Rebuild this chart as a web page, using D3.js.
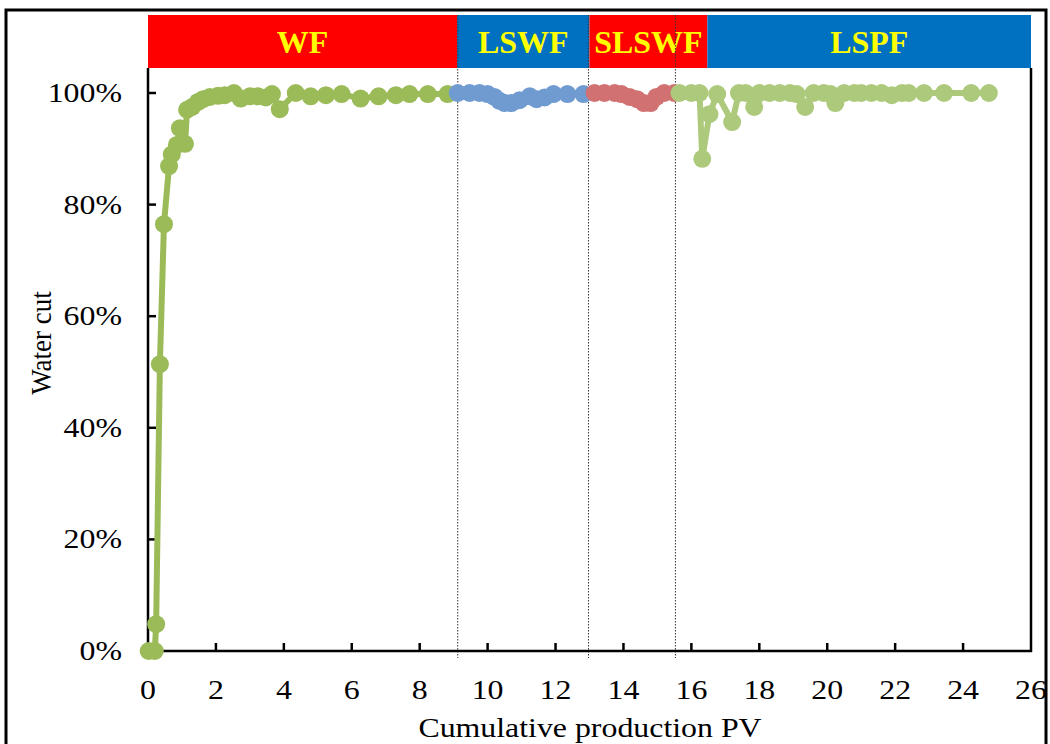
<!DOCTYPE html>
<html>
<head>
<meta charset="utf-8">
<script src="https://cdn.jsdelivr.net/npm/d3@7"></script>
<style>
  body { margin: 0; background: #fff; }
  svg { display: block; font-family: "Liberation Serif", "Times New Roman", serif; }
</style>
</head>
<body>
<script>
// Datos de cada etapa (PV acumulado, corte de agua)
const wfX = [0.02, 0.2, 0.24, 0.35, 0.47, 0.62, 0.7, 0.85, 0.94, 1.09, 1.15, 1.3, 1.47, 1.62, 1.82, 2.06, 2.26, 2.53, 2.73, 3.0, 3.24, 3.47, 3.65, 3.88, 4.35, 4.79, 5.24, 5.7, 6.26, 6.79, 7.3, 7.7, 8.24, 8.82];
const wfY = [0, 0, 0.048, 0.514, 0.765, 0.869, 0.89, 0.907, 0.937, 0.909, 0.97, 0.975, 0.984, 0.989, 0.993, 0.995, 0.996, 1.0, 0.99, 0.994, 0.994, 0.992, 0.998, 0.971, 1.0, 0.994, 0.996, 0.998, 0.99, 0.994, 0.996, 0.998, 0.998, 0.998];

const lswfX = [9.12, 9.47, 9.76, 10.0, 10.2, 10.35, 10.5, 10.7, 10.94, 11.24, 11.44, 11.68, 11.94, 12.35, 12.82];
const lswfY = [1.0, 1.0, 1.0, 0.998, 0.993, 0.986, 0.982, 0.982, 0.987, 0.994, 0.989, 0.992, 0.998, 0.998, 0.998];

const slswfX = [13.15, 13.44, 13.74, 13.94, 14.18, 14.4, 14.6, 14.8, 14.97, 15.2, 15.5];
const slswfY = [1.0, 1.0, 1.0, 0.998, 0.993, 0.989, 0.982, 0.982, 0.993, 1.0, 1.0];

const lspfX = [15.65, 16.0, 16.24, 16.32, 16.53, 16.76, 17.2, 17.4, 17.6, 17.85, 18.0, 18.3, 18.6, 18.9, 19.1, 19.35, 19.6, 19.9, 20.1, 20.24, 20.5, 20.8, 21.0, 21.3, 21.6, 21.9, 22.2, 22.4, 22.85, 23.44, 24.24, 24.76];
const lspfY = [1.0, 1.0, 1.0, 0.882, 0.962, 0.998, 0.948, 1.0, 1.0, 0.975, 1.0, 1.0, 1.0, 1.0, 0.998, 0.975, 1.0, 1.0, 0.998, 0.982, 1.0, 1.0, 1.0, 1.0, 1.0, 0.996, 1.0, 1.0, 1.0, 1.0, 1.0, 1.0];

// Etapas del banner superior
const fases = ["WF", "LSWF", "SLSWF", "LSPF"];
const limitesFases = [0, 9.1, 13.0, 16.47, 26];
const coloresFases = ["#ff0000", "#0070c0", "#ff0000", "#0070c0"];
const divisiones = [9.12, 12.97, 15.53];

const ticksX = [0, 2, 4, 6, 8, 10, 12, 14, 16, 18, 20, 22, 24, 26];
const ticksY = [0, 0.2, 0.4, 0.6, 0.8, 1.0];

const WIDTH = 1050;
const HEIGHT = 744;
const ESTIRAR = 1.18; // el texto del original está algo ensanchado

const svg = d3.select("body").append("svg")
  .attr("width", WIDTH)
  .attr("height", HEIGHT);

// Marco exterior
svg.append("rect")
  .attr("x", 6).attr("y", 10)
  .attr("width", 1040).attr("height", 745)
  .attr("fill", "none").attr("stroke", "#000").attr("stroke-width", 3);

const escalaX = d3.scaleLinear().domain([0, 26]).range([148, 1031]);
const escalaY = d3.scaleLinear().domain([0, 1]).range([651, 93]);

// Banner
const banner = svg.append("g");
fases.forEach((f, i) => {
  const x0 = escalaX(limitesFases[i]);
  const x1 = escalaX(limitesFases[i + 1]);
  banner.append("rect")
    .attr("x", x0).attr("y", 15)
    .attr("width", x1 - x0).attr("height", 53)
    .attr("fill", coloresFases[i]);
  banner.append("text")
    .attr("transform", `translate(${(x0 + x1) / 2},53) scale(1.03,1)`)
    .attr("text-anchor", "middle")
    .attr("font-size", 31).attr("font-weight", "bold")
    .attr("fill", "#ffff00")
    .text(f);
});

// Líneas punteadas entre etapas
svg.selectAll(".div")
  .data(divisiones)
  .join("line")
  .attr("x1", d => escalaX(d)).attr("x2", d => escalaX(d))
  .attr("y1", 15).attr("y2", 658)
  .attr("stroke", "#333").attr("stroke-width", 1)
  .attr("stroke-dasharray", "1.5,1.5");

// Ejes
const ejes = svg.append("g").attr("stroke", "#000").attr("stroke-width", 2.5);
ejes.append("line").attr("x1", 148).attr("x2", 148).attr("y1", 68).attr("y2", 652);
ejes.append("line").attr("x1", 1031).attr("x2", 1031).attr("y1", 68).attr("y2", 652);
ejes.append("line").attr("x1", 147).attr("x2", 1032).attr("y1", 651).attr("y2", 651);

ejes.selectAll(".tx").data(ticksX.slice(1, -1)).join("line")
  .attr("x1", d => escalaX(d)).attr("x2", d => escalaX(d))
  .attr("y1", 651).attr("y2", 643);
ejes.selectAll(".ty").data(ticksY.slice(1)).join("line")
  .attr("x1", 148).attr("x2", 156)
  .attr("y1", d => escalaY(d)).attr("y2", d => escalaY(d));

svg.selectAll(".lx").data(ticksX).join("text")
  .attr("transform", d => `translate(${escalaX(d)},699) scale(${ESTIRAR},1)`)
  .attr("text-anchor", "middle").attr("font-size", 27)
  .text(d => d);

svg.selectAll(".ly").data(ticksY).join("text")
  .attr("transform", d => `translate(122,${escalaY(d) + 9}) scale(${ESTIRAR},1)`)
  .attr("text-anchor", "end").attr("font-size", 27)
  .text(d => d3.format(".0%")(d));

svg.append("text")
  .attr("transform", `translate(590,737) scale(${ESTIRAR},1)`)
  .attr("text-anchor", "middle").attr("font-size", 27)
  .text("Cumulative production PV");

svg.append("text")
  .attr("transform", "translate(51,343) rotate(-90) scale(1,1.08)")
  .attr("text-anchor", "middle").attr("font-size", 27)
  .text("Water cut");

// Series
const series = [
  { x: wfX, y: wfY, color: "#9bbb59" },
  { x: lswfX, y: lswfY, color: "#6f9bd1" },
  { x: slswfX, y: slswfY, color: "#d27171" },
  { x: lspfX, y: lspfY, color: "#adca7c" },
];

const linea = d3.line().x(d => escalaX(d[0])).y(d => escalaY(d[1]));

series.forEach(s => {
  const puntos = s.x.map((v, i) => [v, s.y[i]]);
  const g = svg.append("g");
  g.append("path")
    .attr("d", linea(puntos))
    .attr("fill", "none").attr("stroke", s.color)
    .attr("stroke-width", 6).attr("stroke-linejoin", "round");
  g.selectAll("circle").data(puntos).join("circle")
    .attr("cx", d => escalaX(d[0])).attr("cy", d => escalaY(d[1]))
    .attr("r", 9).attr("fill", s.color);
});
</script>
</body>
</html>
